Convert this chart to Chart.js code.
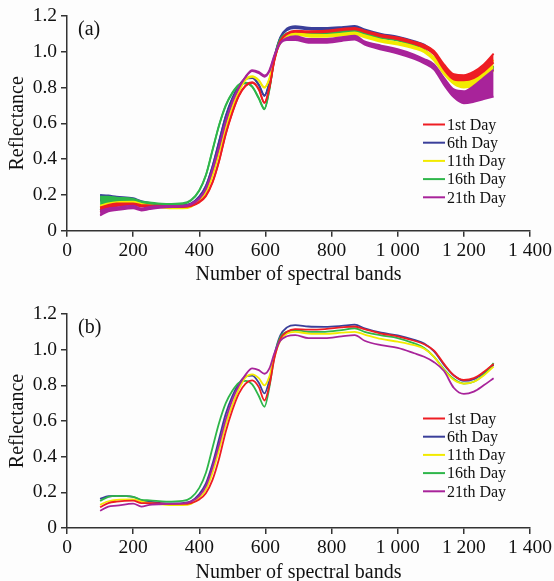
<!DOCTYPE html>
<html>
<head>
<meta charset="utf-8">
<script src="https://cdn.jsdelivr.net/npm/chart.js@4.4.1/dist/chart.umd.min.js"></script>
<style>
  html, body { margin: 0; padding: 0; background: #fdfdfd; overflow: hidden; }
  #wrap { position: relative; width: 554px; height: 581px; }
  canvas { position: absolute; left: 0; }
  #chartA { top: 0; }
  #chartB { top: 290px; }
</style>
</head>
<body>
<div id="wrap">
  <canvas id="chartA" width="554" height="290"></canvas>
  <canvas id="chartB" width="554" height="300"></canvas>
</div>
<script>
const bands = [100,125,150,200,225,250,300,350,375,400,420,440,460,480,500,520,540,560,580,597,612,627,645,665,690,730,780,830,870,900,950,1000,1050,1080,1110,1140,1170,1200,1230,1260,1290];

const xTickLabels = ['0', '200', '400', '600', '800', '1 000', '1 200', '1 400'];
const yTickLabels = ['0', '0.2', '0.4', '0.6', '0.8', '1.0', '1.2'];
const dayLabels = ['1st Day', '6th Day', '11th Day', '16th Day', '21th Day'];
const dayColors = ['#ee1d23', '#3a3f9a', '#f2ea00', '#2eb64a', '#a8239a'];

// panel (b): mean spectra
const day1 = [.116,.14,.148,.153,.14,.14,.135,.135,.14,.16,.195,.27,.39,.54,.66,.755,.81,.828,.79,.715,.80,.95,1.06,1.10,1.115,1.112,1.115,1.125,1.13,1.115,1.09,1.075,1.05,1.03,.995,.92,.855,.83,.84,.875,.92];
const day6 = [.163,.178,.18,.175,.155,.148,.138,.14,.15,.19,.25,.36,.50,.64,.74,.81,.85,.855,.815,.755,.83,.97,1.08,1.125,1.138,1.13,1.128,1.133,1.14,1.12,1.095,1.08,1.055,1.035,.99,.915,.855,.825,.835,.87,.915];
const day11 = [.13,.15,.158,.16,.148,.14,.13,.128,.135,.17,.215,.31,.44,.58,.69,.78,.845,.862,.84,.80,.85,.96,1.05,1.09,1.10,1.09,1.088,1.095,1.10,1.085,1.06,1.045,1.025,1.005,.96,.885,.83,.81,.82,.855,.905];
const day16 = [.152,.175,.18,.175,.158,.155,.148,.152,.17,.225,.31,.45,.59,.70,.77,.815,.825,.805,.74,.68,.79,.96,1.07,1.10,1.11,1.10,1.10,1.11,1.12,1.10,1.08,1.065,1.035,1.01,.96,.89,.835,.81,.82,.86,.925];
const day21 = [.097,.12,.125,.137,.12,.13,.135,.138,.148,.18,.235,.34,.47,.61,.72,.80,.86,.895,.885,.865,.895,.98,1.05,1.075,1.082,1.065,1.065,1.075,1.082,1.05,1.025,1.01,.98,.96,.93,.88,.785,.752,.765,.80,.84];

// panel (a): upper and lower edges of each day's spread
const day1Hi = [.13,.145,.152,.153,.143,.142,.137,.137,.142,.162,.197,.272,.392,.542,.662,.757,.812,.83,.792,.717,.802,.952,1.062,1.102,1.118,1.116,1.118,1.128,1.134,1.118,1.095,1.08,1.056,1.038,1.005,.93,.875,.87,.89,.93,.99];
const day1Lo = [.105,.128,.138,.145,.135,.136,.132,.132,.138,.158,.193,.268,.388,.538,.658,.753,.808,.826,.788,.713,.798,.948,1.058,1.098,1.112,1.108,1.11,1.12,1.126,1.11,1.085,1.07,1.044,1.022,.985,.9,.845,.84,.852,.89,.94];
const day6Hi = [.20,.197,.19,.182,.165,.155,.142,.143,.153,.192,.252,.362,.502,.642,.742,.812,.852,.857,.817,.757,.832,.972,1.082,1.13,1.143,1.135,1.133,1.138,1.145,1.125,1.10,1.085,1.06,1.04,.995,.92,.86,.83,.84,.875,.92];
const day6Lo = [.168,.172,.172,.165,.15,.145,.135,.137,.147,.188,.248,.358,.498,.638,.738,.808,.848,.853,.813,.753,.828,.968,1.078,1.12,1.133,1.125,1.123,1.128,1.135,1.115,1.09,1.075,1.05,1.03,.985,.91,.85,.82,.83,.865,.91];
const day11Hi = [.14,.153,.16,.162,.15,.142,.132,.13,.137,.172,.217,.312,.442,.582,.692,.782,.847,.864,.842,.802,.852,.962,1.052,1.093,1.105,1.097,1.095,1.102,1.108,1.093,1.068,1.052,1.03,1.01,.97,.905,.855,.845,.86,.90,.955];
const day11Lo = [.128,.143,.15,.152,.143,.136,.127,.125,.133,.168,.213,.308,.438,.578,.688,.778,.843,.86,.838,.798,.848,.958,1.048,1.087,1.095,1.085,1.083,1.09,1.096,1.08,1.055,1.04,1.018,.998,.95,.875,.82,.80,.81,.845,.895];
const day16Hi = [.19,.19,.185,.178,.163,.158,.15,.154,.172,.227,.312,.452,.592,.702,.772,.817,.827,.807,.742,.682,.792,.962,1.072,1.103,1.114,1.105,1.105,1.115,1.124,1.104,1.084,1.068,1.038,1.013,.963,.893,.84,.822,.835,.865,.915];
const day16Lo = [.115,.14,.15,.155,.148,.146,.142,.148,.168,.223,.308,.448,.588,.698,.768,.813,.823,.803,.738,.678,.788,.958,1.068,1.097,1.106,1.095,1.095,1.105,1.116,1.096,1.076,1.062,1.032,1.007,.957,.885,.83,.81,.82,.855,.90];
const day21Hi = [.112,.125,.13,.14,.125,.133,.138,.14,.15,.182,.237,.342,.472,.612,.722,.802,.862,.898,.888,.868,.898,.982,1.052,1.078,1.087,1.072,1.072,1.082,1.09,1.058,1.035,1.015,.985,.96,.93,.855,.79,.78,.81,.855,.90];
const day21Lo = [.085,.108,.115,.125,.113,.12,.13,.134,.145,.178,.233,.338,.468,.608,.718,.798,.858,.892,.88,.86,.89,.975,1.045,1.065,1.065,1.05,1.05,1.06,1.068,1.04,1.012,.99,.96,.935,.90,.815,.745,.712,.72,.735,.75];

const serif = "'Liberation Serif', 'Times New Roman', serif";
const axisColor = '#333';

function pts(arr) {
  return bands.map((x, i) => ({ x: x, y: arr[i] }));
}

function lineSet(arr, color, fill) {
  return {
    data: pts(arr),
    borderColor: color,
    backgroundColor: color,
    borderWidth: 1.8,
    pointRadius: 0,
    cubicInterpolationMode: 'monotone',
    fill: fill
  };
}

// draws panel tag and the legend inside the plot
const extrasPlugin = {
  id: 'extras',
  afterDraw(chart, args, opts) {
    const ctx = chart.ctx;
    ctx.save();
    ctx.fillStyle = '#111';
    ctx.font = '20px ' + serif;
    ctx.textBaseline = 'middle';
    ctx.textAlign = 'left';
    ctx.fillText(opts.tag, 78, opts.tagY);
    ctx.font = '16px ' + serif;
    dayLabels.forEach((label, i) => {
      const y = opts.legendY + i * 18.2;
      ctx.strokeStyle = dayColors[i];
      ctx.lineWidth = 2;
      ctx.beginPath();
      ctx.moveTo(423, y);
      ctx.lineTo(445, y);
      ctx.stroke();
      ctx.fillStyle = '#111';
      ctx.fillText(label, 447, y + 1);
    });
    ctx.restore();
  }
};

function makeOptions(topPad, canvasH, plotBottom, titlePadBottom, tag, tagY, legendY) {
  return {
    responsive: false,
    animation: false,
    layout: { padding: { top: topPad, right: 24, left: 0, bottom: 0 } },
    plugins: {
      legend: { display: false },
      tooltip: { enabled: false },
      extras: { tag: tag, tagY: tagY, legendY: legendY }
    },
    scales: {
      x: {
        type: 'linear',
        min: 0,
        max: 1400,
        afterFit(scale) { scale.height = canvasH - plotBottom; },
        ticks: {
          stepSize: 200,
          color: '#111',
          padding: 2,
          font: { family: serif, size: 19.5 },
          callback: (v, i) => xTickLabels[i]
        },
        grid: { drawOnChartArea: false, drawTicks: true, tickLength: 6, color: axisColor, lineWidth: 1.5 },
        border: { display: true, color: axisColor, width: 1.5 },
        title: {
          display: true,
          text: 'Number of spectral bands',
          color: '#111',
          font: { family: serif, size: 20 },
          padding: { top: 0, bottom: titlePadBottom }
        }
      },
      y: {
        min: 0,
        max: 1.2,
        afterFit(scale) { scale.width = 67; },
        ticks: {
          stepSize: 0.2,
          color: '#111',
          padding: 4,
          font: { family: serif, size: 19.5 },
          callback: (v, i) => yTickLabels[i]
        },
        grid: { drawOnChartArea: false, drawTicks: true, tickLength: 6, color: axisColor, lineWidth: 1.5 },
        border: { display: true, color: axisColor, width: 1.5 },
        title: {
          display: true,
          text: 'Reflectance',
          color: '#111',
          font: { family: serif, size: 20 },
          padding: { top: 6, bottom: 0 }
        }
      }
    }
  };
}

// panel (a): dataset 0 is drawn on top, so magenta first, blue last
new Chart(document.getElementById('chartA'), {
  type: 'line',
  data: {
    datasets: [
      lineSet(day21Hi, dayColors[4], '+1'), lineSet(day21Lo, dayColors[4], false),
      lineSet(day1Hi, dayColors[0], '+1'), lineSet(day1Lo, dayColors[0], false),
      lineSet(day11Hi, dayColors[2], '+1'), lineSet(day11Lo, dayColors[2], false),
      lineSet(day16Hi, dayColors[3], '+1'), lineSet(day16Lo, dayColors[3], false),
      lineSet(day6Hi, dayColors[1], '+1'), lineSet(day6Lo, dayColors[1], false)
    ]
  },
  options: makeOptions(16, 290, 230.7, 3, '(a)', 30, 124.5),
  plugins: [extrasPlugin]
});

// panel (b)
new Chart(document.getElementById('chartB'), {
  type: 'line',
  data: {
    datasets: [
      lineSet(day21, dayColors[4], false),
      lineSet(day1, dayColors[0], false),
      lineSet(day11, dayColors[2], false),
      lineSet(day16, dayColors[3], false),
      lineSet(day6, dayColors[1], false)
    ]
  },
  options: makeOptions(24, 300, 238, 5, '(b)', 38, 128.5),
  plugins: [extrasPlugin]
});
</script>
</body>
</html>
